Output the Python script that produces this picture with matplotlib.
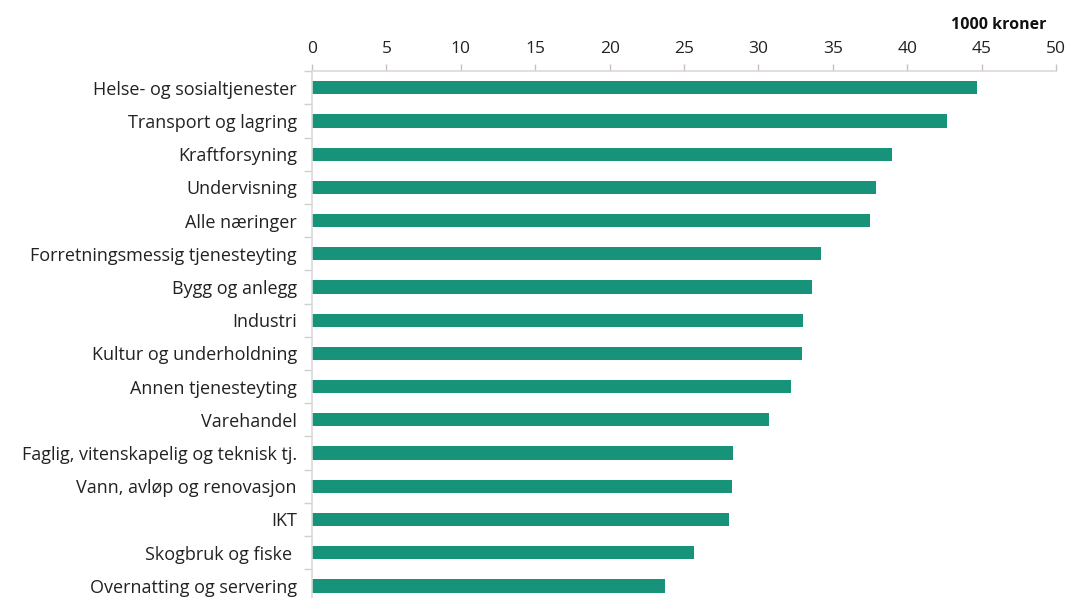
import matplotlib
matplotlib.use("Agg")
import matplotlib.pyplot as plt
import numpy as np

categories = [
    "Helse- og sosialtjenester",
    "Transport og lagring",
    "Kraftforsyning",
    "Undervisning",
    "Alle næringer",
    "Forretningsmessig tjenesteyting",
    "Bygg og anlegg",
    "Industri",
    "Kultur og underholdning",
    "Annen tjenesteyting",
    "Varehandel",
    "Faglig, vitenskapelig og teknisk tj.",
    "Vann, avløp og renovasjon",
    "IKT",
    "Skogbruk og fiske ",
    "Overnatting og servering",
]
values = [44.7, 42.7, 39.0, 37.9, 37.5, 34.2, 33.6, 33.0, 32.9, 32.2,
          30.7, 28.3, 28.2, 28.0, 25.7, 23.7]
x_ticks = [0, 5, 10, 15, 20, 25, 30, 35, 40, 45, 50]
unit_label = "1000 kroner"

plt.rcParams["font.family"] = ["Open Sans", "DejaVu Sans"]

fig = plt.figure(figsize=(10.65, 5.98), dpi=100)
ax = fig.add_axes([0.293, -0.0075, 0.6986, 0.8885])

n = len(categories)
y = np.arange(n)
ax.barh(y, values, height=0.4, color="#17937A", zorder=2)

ax.set_ylim(n - 0.5, -0.5)
ax.set_xlim(0, 50)

ax.xaxis.tick_top()
ax.set_xticks(x_ticks)
ax.set_xticklabels([str(t) for t in x_ticks], fontsize=12.5, color="#222222")
ax.tick_params(axis="x", direction="out", length=5, width=1, color="#c8c0c0", pad=5)

ax.set_yticks(y)
ax.set_yticklabels(categories, fontsize=13.0, color="#222222")
ax.tick_params(axis="y", which="major", length=0, pad=11)
ax.set_yticks(np.arange(n + 1) - 0.5, minor=True)
ax.tick_params(axis="y", which="minor", direction="out", length=6, width=1, color="#d0d0d0")

for side in ("right", "bottom"):
    ax.spines[side].set_visible(False)
ax.spines["top"].set_color("#e0d8d8")
ax.spines["top"].set_linewidth(1.2)
ax.spines["left"].set_color("#d9d9d9")
ax.spines["left"].set_linewidth(1.2)

fig.text(0.983, 0.958, unit_label, ha="right", va="center",
         fontsize=11.5, fontweight="bold", color="#111111")

fig.savefig("out.png", dpi=100, facecolor="white")
